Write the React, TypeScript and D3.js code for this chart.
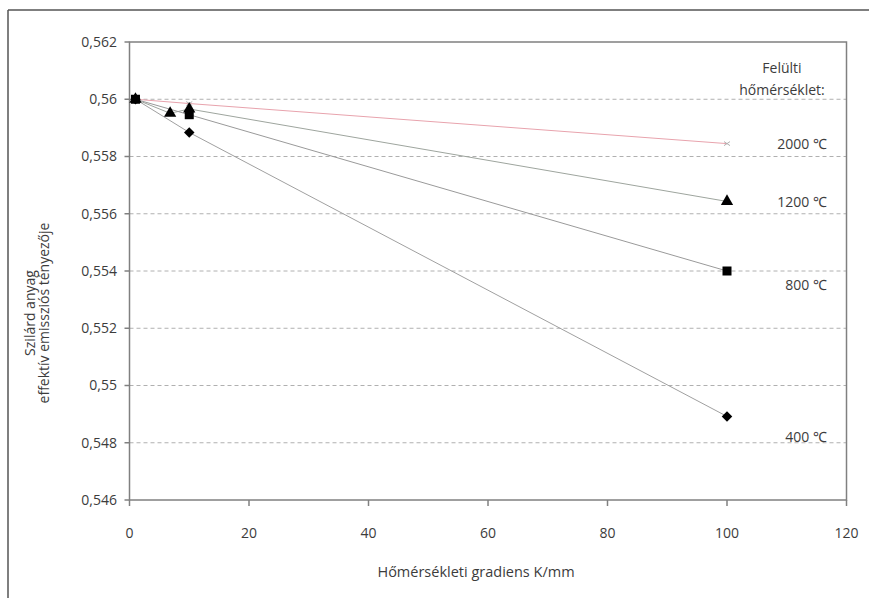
import React from "react";
import * as d3 from "d3";

const xTicks = [0, 20, 40, 60, 80, 100, 120];
const yTicks = [0.546, 0.548, 0.55, 0.552, 0.554, 0.556, 0.558, 0.56, 0.562];
const yTickLabels = ["0,546", "0,548", "0,55", "0,552", "0,554", "0,556", "0,558", "0,56", "0,562"];

const seriesNames = ["2000 ℃", "1200 ℃", "800 ℃", "400 ℃"];
const x2000 = [1, 10, 100];
const y2000 = [0.56, 0.55985, 0.55845];
const x1200 = [1, 6.8, 10, 100];
const y1200 = [0.56, 0.55951, 0.55966, 0.55643];
const x800 = [1, 10, 100];
const y800 = [0.56, 0.55946, 0.554];
const x400 = [1, 10, 100];
const y400 = [0.56, 0.55884, 0.54892];
const labelValues = [0.55845, 0.5564, 0.5535, 0.5482];

const legendTitle = ["Felülti", "hőmérséklet:"];
const xTitle = "Hőmérsékleti gradiens K/mm";
const yTitle = ["Szilárd anyag", "effektív emissziós tényezője"];

const W = 869;
const H = 598;
const m = { left: 129.5, right: 846.5, top: 42, bottom: 500 };
const FONT = "'Open Sans', sans-serif";
const TXT = "#3c3c3c";
const FS = 14;

export default function App() {
  const x = d3.scaleLinear().domain([0, 120]).range([m.left, m.right]);
  const y = d3.scaleLinear().domain([0.546, 0.562]).range([m.bottom, m.top]);
  const line = d3.line<[number, number]>().x((d) => x(d[0])).y((d) => y(d[1]));

  const series = [
    { xs: x2000, ys: y2000, color: "#e8a3ad", marker: "x" },
    { xs: x1200, ys: y1200, color: "#9ea59e", marker: "tri" },
    { xs: x800, ys: y800, color: "#9a9a9a", marker: "sq" },
    { xs: x400, ys: y400, color: "#a0a0a0", marker: "dia" },
  ];

  const marker = (kind: string, cx: number, cy: number, key: string) => {
    if (kind === "tri") {
      const p = d3.symbol(d3.symbolTriangle, 65)();
      return <path key={key} d={p as string} transform={`translate(${cx},${cy})`} fill="#000" />;
    }
    if (kind === "sq") {
      return <rect key={key} x={cx - 4.5} y={cy - 4.5} width={9} height={9} fill="#000" />;
    }
    if (kind === "dia") {
      const p = d3.symbol(d3.symbolDiamond2, 70)();
      return <path key={key} d={p as string} transform={`translate(${cx},${cy})`} fill="#000" />;
    }
    return (
      <g key={key} stroke="#b0b0b0" strokeWidth={1}>
        <line x1={cx - 3} y1={cy - 2} x2={cx + 3} y2={cy + 2} />
        <line x1={cx - 3} y1={cy + 2} x2={cx + 3} y2={cy - 2} />
      </g>
    );
  };

  return (
    <svg width={W} height={H} style={{ position: "absolute", left: 0, top: 0 }} fontFamily={FONT}>
      <rect x={0} y={0} width={W} height={H} fill="#fff" />
      {/* outer frame */}
      <line x1={8} y1={10} x2={W} y2={10} stroke="#555" strokeWidth={1.5} />
      <line x1={8} y1={10} x2={8} y2={H} stroke="#555" strokeWidth={1.5} />

      {/* gridlines */}
      {yTicks
        .filter((t) => t > 0.5465 && t < 0.5615)
        .map((t) => (
          <line key={"g" + t} x1={m.left} x2={m.right} y1={y(t)} y2={y(t)} stroke="#b0b0b0" strokeDasharray="4,3" strokeWidth={1} />
        ))}

      {/* plot border */}
      <rect x={m.left} y={m.top} width={m.right - m.left} height={m.bottom - m.top} fill="none" stroke="#808080" strokeWidth={1.5} />

      {/* y ticks */}
      {yTicks.map((t, i) => (
        <g key={"y" + t}>
          <line x1={m.left - 5} x2={m.left} y1={y(t)} y2={y(t)} stroke="#808080" strokeWidth={1.5} />
          <text x={117} y={y(t)} dy="0.35em" textAnchor="end" fontSize={FS} fill={TXT}>
            {yTickLabels[i]}
          </text>
        </g>
      ))}

      {/* x ticks */}
      {xTicks.map((t) => (
        <g key={"x" + t}>
          <line x1={x(t)} x2={x(t)} y1={m.bottom} y2={m.bottom + 6} stroke="#808080" strokeWidth={1.5} />
          <text x={x(t)} y={533} dy="0.35em" textAnchor="middle" fontSize={FS} fill={TXT}>
            {t}
          </text>
        </g>
      ))}

      {/* series lines */}
      {series.map((s, i) => (
        <path
          key={"l" + i}
          d={line(s.xs.map((v, j) => [v, s.ys[j]] as [number, number])) as string}
          fill="none"
          stroke={s.color}
          strokeWidth={1}
        />
      ))}
      {/* markers */}
      {series.map((s, i) => s.xs.map((v, j) => marker(s.marker, x(v), y(s.ys[j]), `m${i}-${j}`)))}

      {/* series labels */}
      {seriesNames.map((n, i) => (
        <text key={"n" + i} x={827} y={y(labelValues[i])} dy="0.35em" textAnchor="end" fontSize={FS} fill={TXT}>
          {n}
        </text>
      ))}
      <text x={782} y={68} dy="0.35em" textAnchor="middle" fontSize={FS} fill={TXT}>
        {legendTitle[0]}
      </text>
      <text x={782} y={90} dy="0.35em" textAnchor="middle" fontSize={FS} fill={TXT}>
        {legendTitle[1]}
      </text>

      {/* axis titles */}
      <text x={476} y={572} dy="0.35em" textAnchor="middle" fontSize={FS + 0.5} fill={TXT}>
        {xTitle}
      </text>
      <g transform="translate(30,313) rotate(-90)">
        <text x={0} y={0} dy="0.35em" textAnchor="middle" fontSize={FS} fill={TXT}>
          {yTitle[0]}
        </text>
        <text x={0} y={14} dy="0.35em" textAnchor="middle" fontSize={FS} fill={TXT}>
          {yTitle[1]}
        </text>
      </g>
    </svg>
  );
}
